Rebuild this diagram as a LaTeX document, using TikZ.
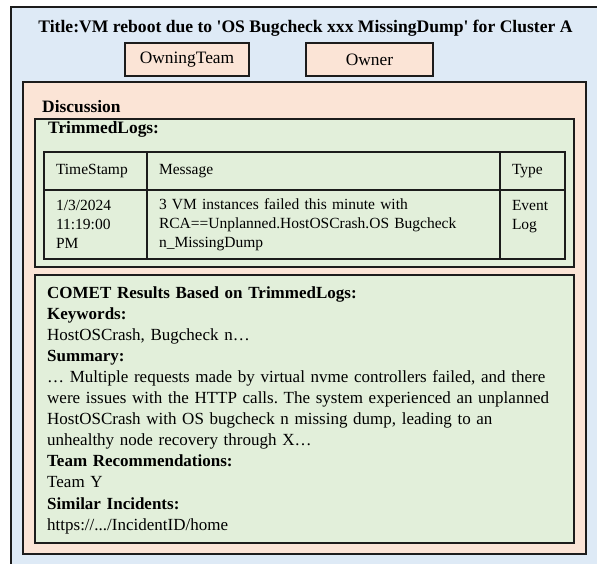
\documentclass[tikz,border=0pt]{standalone}
\usepackage{fontspec}
\setmainfont{Liberation Serif}
\usetikzlibrary{positioning}
\definecolor{Ink}{HTML}{1C1C1C}
\definecolor{Sky}{HTML}{DEEAF6}
\definecolor{Peach}{HTML}{FBE4D6}
\definecolor{Sage}{HTML}{E2EFDA}
\newcommand{\bodyfont}{\fontsize{15.5}{19.2}\selectfont}
\newcommand{\bigfont}{\fontsize{17.4}{21}\selectfont}
\newcommand{\squote}{\XeTeXglyph\XeTeXcharglyph"27\relax}
\frenchspacing
\begin{document}
\begin{tikzpicture}[x=1pt,y=-1pt,
  panel/.style={draw=Ink,line width=1.2pt,anchor=north west,inner sep=0pt,outer sep=0pt},
  tag/.style={draw=Ink,line width=1.2pt,fill=Peach,minimum height=33pt,inner sep=0pt,font=\bigfont},
  heading/.style={anchor=base west,inner sep=0pt,font=\bfseries\bigfont},
  cell/.style={draw=Ink,line width=1.2pt,anchor=north west,align=left,inner xsep=12pt,inner ysep=0pt,outer sep=0pt,font=\bodyfont}
]
\useasboundingbox (0,0) rectangle (597,564);
\node[panel,fill=Sky,minimum width=620pt,minimum height=600pt] (board) at (11,7) {};
\node[anchor=base,inner sep=0pt,font=\bfseries\fontsize{17.6}{21}\selectfont] (title) at (305.5,33) {Title:VM reboot due to \squote OS Bugcheck xxx MissingDump\squote\ for Cluster A};
\node[tag,minimum width=124pt] (team) at (187,59.5) {OwningTeam};
\node[tag,minimum width=127pt] (owner) at (369.5,59.5) {Owner};
\node[panel,fill=Peach,minimum width=563pt,minimum height=472pt] (disc) at (23,82) {};
\node[heading] (discname) at (42,112.5) {Discussion};
\node[panel,fill=Sage,minimum width=539pt,minimum height=148pt] (logs) at (35,119) {};
\node[heading] (logsname) at (48,134) {TrimmedLogs:};
\node[cell,text width=79pt,minimum height=38pt] (tshead) at (44,152) {TimeStamp};
\node[cell,text width=329pt,minimum height=38pt,right=0pt of tshead.north east,anchor=north west] (msghead) {Message};
\node[cell,text width=41pt,minimum height=38pt,right=0pt of msghead.north east,anchor=north west] (typehead) {Type};
\node[cell,text width=79pt,minimum height=69pt,below=0pt of tshead.south west,anchor=north west] (ts) {1/3/2024\\11:19:00\\PM};
\node[cell,text width=329pt,minimum height=69pt,below=0pt of msghead.south west,anchor=north west] (msg) {3 VM instances failed this minute with\\RCA==Unplanned.HostOSCrash.OS Bugcheck\\n\_MissingDump};
\node[cell,text width=41pt,minimum height=69pt,below=0pt of typehead.south west,anchor=north west] (type) {Event\\Log\\~};
\node[panel,fill=Sage,minimum width=539pt,minimum height=268pt] (comet) at (35,275) {};
\node[anchor=base west,inner sep=0pt,text width=524pt,align=left,font=\fontsize{17}{21.1}\selectfont] (result) at (47,298) {\textbf{COMET Results Based on TrimmedLogs:}\\
\textbf{Keywords:}\\
HostOSCrash, Bugcheck n…\\
\textbf{Summary:}\\
… Multiple requests made by virtual nvme controllers failed, and there\\
were issues with the HTTP calls. The system experienced an unplanned\\
HostOSCrash with OS bugcheck n missing dump, leading to an\\
unhealthy node recovery through X…\\
\textbf{Team Recommendations:}\\
Team Y\\
\textbf{Similar Incidents:}\\
https://.../IncidentID/home};
\end{tikzpicture}
\end{document}
